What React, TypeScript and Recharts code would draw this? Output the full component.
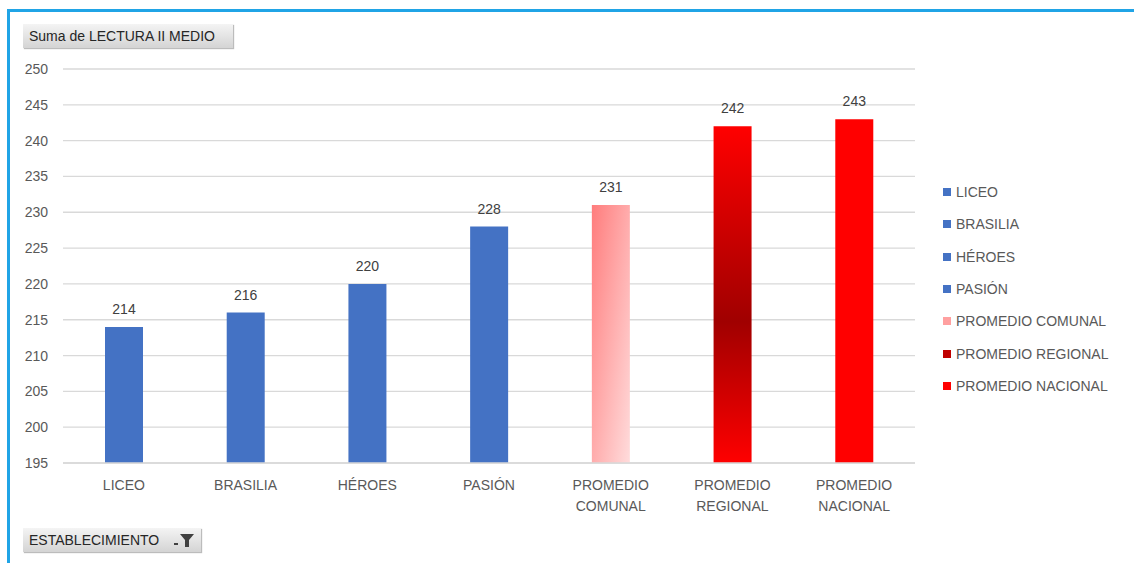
import React from "react";
import {
    Bar,
    BarChart,
    CartesianGrid,
    Cell,
    LabelList,
    Legend,
    XAxis,
    YAxis,
} from "recharts";

const establecimientos = [
    "LICEO",
    "BRASILIA",
    "HÉROES",
    "PASIÓN",
    "PROMEDIO COMUNAL",
    "PROMEDIO REGIONAL",
    "PROMEDIO NACIONAL",
];

const lectura = [214, 216, 220, 228, 231, 242, 243];

const colores = [
    "#4472C4",
    "#4472C4",
    "#4472C4",
    "#4472C4",
    "url(#gradComunal)",
    "url(#gradRegional)",
    "#FF0000",
];

const legendSwatch = [
    "#4472C4",
    "#4472C4",
    "#4472C4",
    "#4472C4",
    "#FFA0A0",
    "#C00000",
    "#FF0000",
];

const yTicks = [195, 200, 205, 210, 215, 220, 225, 230, 235, 240, 245, 250];

const data = establecimientos.map((name, i) => ({
    name,
    value: lectura[i],
}));

const FONT = "'Liberation Sans', Arial, sans-serif";

function CategoryTick(props: any) {
    const { x, y, payload } = props;
    const words = String(payload.value).split(" ");
    return (
        <g transform={`translate(${x},${y})`}>
            {words.map((w: string, i: number) => (
                <text
                    key={i}
                    x={0}
                    y={i * 21}
                    dy={19}
                    textAnchor="middle"
                    fill="#595959"
                    fontSize={14}
                    fontFamily={FONT}
                >
                    {w}
                </text>
            ))}
        </g>
    );
}

function LegendList() {
    return (
        <div style={{ fontFamily: FONT, fontSize: 14, color: "#595959" }}>
            {establecimientos.map((name, i) => (
                <div
                    key={name}
                    style={{
                        display: "flex",
                        alignItems: "center",
                        height: 32.3,
                    }}
                >
                    <span
                        style={{
                            display: "inline-block",
                            width: 8,
                            height: 8,
                            background: legendSwatch[i],
                            marginRight: 5,
                        }}
                    />
                    {name}
                </div>
            ))}
        </div>
    );
}

const fieldButton: React.CSSProperties = {
    position: "absolute",
    height: 24,
    background: "linear-gradient(#f4f4f4, #d4d4d4)",
    boxShadow: "1px 1px 1px #bcbcbc",
    fontFamily: FONT,
    fontSize: 14,
    color: "#262626",
    lineHeight: "24px",
    paddingLeft: 6,
    boxSizing: "border-box",
};

export default function App() {
    return (
        <div
            style={{
                position: "absolute",
                left: 0,
                top: 0,
                width: 1134,
                height: 563,
                background: "#ffffff",
                overflow: "hidden",
            }}
        >
            <div
                style={{
                    position: "absolute",
                    left: 7,
                    top: 9,
                    width: 1140,
                    height: 570,
                    borderLeft: "3px solid #20A4E6",
                    borderTop: "3px solid #20A4E6",
                }}
            />

            <div style={{ position: "absolute", left: 0, top: 0 }}>
                <BarChart
                    width={1134}
                    height={563}
                    data={data}
                    margin={{ top: 69, right: 39, bottom: 40, left: 0 }}
                >
                    <defs>
                        <linearGradient id="gradComunal" x1="0" y1="0" x2="1" y2="1">
                            <stop offset="0%" stopColor="#FF7C7C" />
                            <stop offset="100%" stopColor="#FFDCDC" />
                        </linearGradient>
                        <linearGradient id="gradRegional" x1="0" y1="0" x2="0" y2="1">
                            <stop offset="0%" stopColor="#FF0000" />
                            <stop offset="58%" stopColor="#A00000" />
                            <stop offset="100%" stopColor="#FF0000" />
                        </linearGradient>
                    </defs>

                    <CartesianGrid vertical={false} stroke="#D9D9D9" strokeWidth={1.3} />

                    <XAxis
                        dataKey="name"
                        height={60}
                        axisLine={{ stroke: "#D9D9D9", strokeWidth: 1.3 }}
                        tickLine={false}
                        interval={0}
                        tick={<CategoryTick />}
                    />

                    <YAxis
                        width={63}
                        domain={[195, 250]}
                        ticks={yTicks}
                        allowDataOverflow
                        axisLine={false}
                        tickLine={false}
                        tickMargin={9}
                        tick={{ fill: "#595959", fontSize: 14, fontFamily: FONT }}
                    />

                    <Legend
                        layout="vertical"
                        align="right"
                        verticalAlign="middle"
                        content={<LegendList />}
                        wrapperStyle={{ width: 180, left: 943, top: 176 }}
                    />

                    <Bar dataKey="value" barSize={38} isAnimationActive={false}>
                        {data.map((d, i) => (
                            <Cell key={d.name} fill={colores[i]} />
                        ))}
                        <LabelList
                            dataKey="value"
                            position="top"
                            offset={13}
                            fill="#404040"
                            fontSize={14}
                            fontFamily={FONT}
                        />
                    </Bar>
                </BarChart>
            </div>

            <div style={{ ...fieldButton, left: 23, top: 24, width: 210 }}>
                Suma de LECTURA II MEDIO
            </div>

            <div style={{ ...fieldButton, left: 23, top: 528, width: 178 }}>
                ESTABLECIMIENTO
                <svg
                    width={26}
                    height={20}
                    style={{ position: "absolute", left: 148, top: 2 }}
                >
                    <rect x={3} y={13} width={4} height={2} fill="#404040" />
                    <path d="M9 4 L23 4 L18 10 L18 17 L14 17 L14 10 Z" fill="#404040" />
                </svg>
            </div>
        </div>
    );
}
